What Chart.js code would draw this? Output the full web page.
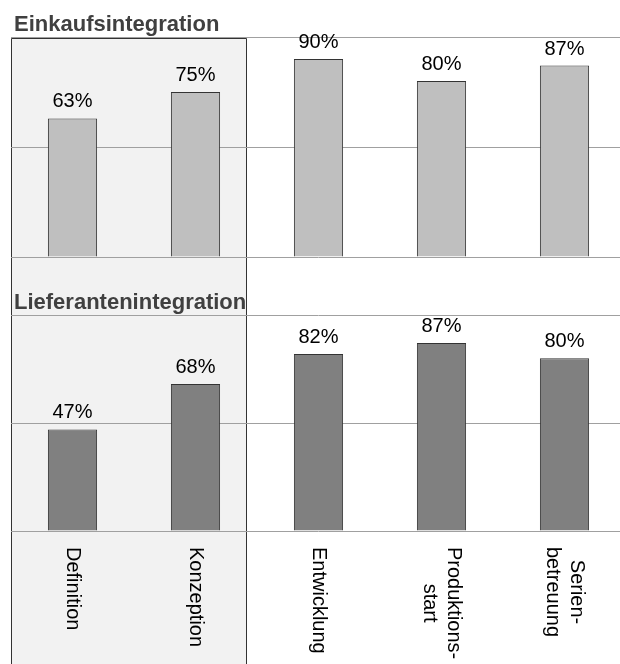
<!DOCTYPE html>
<html>
<head>
<meta charset="utf-8">
<script src="https://cdn.jsdelivr.net/npm/chart.js@4"></script>
<style>
  body { margin: 0; background: #fff; overflow: hidden; }
  .panel { position: absolute; left: 0; }
</style>
</head>
<body>
<div class="panel" style="top:0"><canvas id="topChart" width="626" height="260"></canvas></div>
<div class="panel" style="top:260px"><canvas id="bottomChart" width="626" height="404"></canvas></div>
<script>
// data

const phases = [
  ['Definition'],
  ['Konzeption'],
  ['Entwicklung'],
  ['Produktions-', 'start'],
  ['Serien-', 'betreuung']
];
const einkauf = [63, 75, 90, 80, 87];
const lieferanten = [47, 68, 82, 87, 80];
const yMax = 100;
const yStep = 50;

const font = '"Liberation Sans", Arial, sans-serif';

// shaded box behind the first two phases
const phaseBox = {
  id: 'phaseBox',
  beforeDraw(chart, args, opts) {
    const ctx = chart.ctx;
    const x = chart.scales.x;
    const left = Math.round(chart.chartArea.left) + 0.5;
    const step = x.getPixelForValue(2) - x.getPixelForValue(1);
    const right = Math.round(x.getPixelForValue(1) + step * 0.41) + 0.5;
    const top = opts.fromTop ? 0 : Math.round(chart.chartArea.top) + 1.5;
    const bottom = chart.height;
    ctx.save();
    ctx.fillStyle = '#f2f2f2';
    ctx.fillRect(left, top, right - left, bottom - top);
    ctx.strokeStyle = '#333';
    ctx.lineWidth = 1;
    ctx.beginPath();
    ctx.moveTo(left, bottom);
    ctx.lineTo(left, top);
    if (!opts.fromTop) ctx.lineTo(right, top);
    else ctx.moveTo(right, top);
    ctx.lineTo(right, bottom);
    ctx.stroke();
    ctx.restore();
  }
};

// value labels over the bars + panel heading
const barText = {
  id: 'barText',
  afterDraw(chart, args, opts) {
    const ctx = chart.ctx;
    const meta = chart.getDatasetMeta(0);
    const values = chart.data.datasets[0].data;
    ctx.save();
    ctx.fillStyle = '#000';
    ctx.font = '20px ' + font;
    ctx.textAlign = 'center';
    ctx.textBaseline = 'alphabetic';
    meta.data.forEach((bar, i) => {
      ctx.fillText(values[i] + '%', bar.x, bar.y - 11);
    });

    ctx.fillStyle = '#404040';
    ctx.font = 'bold 22px ' + font;
    ctx.textAlign = 'left';
    ctx.fillText(opts.heading, chart.chartArea.left + 3, chart.chartArea.top - 6);

    // phase names, rotated so they read downwards
    if (opts.phaseLabels) {
      const x = chart.scales.x;
      ctx.fillStyle = '#000';
      ctx.font = '20px ' + font;
      ctx.textAlign = 'center';
      ctx.textBaseline = 'middle';
      chart.data.labels.forEach((lines, i) => {
        const w = Math.max(...lines.map(l => ctx.measureText(l).width));
        ctx.save();
        ctx.translate(x.getPixelForValue(i), chart.chartArea.bottom + 16);
        ctx.rotate(Math.PI / 2);
        lines.forEach((line, j) => {
          ctx.fillText(line, w / 2, (j - (lines.length - 1) / 2) * 24);
        });
        ctx.restore();
      });
    }
    ctx.restore();
  }
};

function makeConfig(values, color, heading, padding, phaseLabels, fromTop) {
  return {
    type: 'bar',
    data: {
      labels: phases,
      datasets: [{
        data: values,
        backgroundColor: color,
        borderColor: '#333',
        borderWidth: 1,
        categoryPercentage: 0.5,
        barPercentage: 0.8
      }]
    },
    options: {
      responsive: false,
      animation: false,
      layout: { padding: padding },
      plugins: {
        legend: { display: false },
        tooltip: { enabled: false },
        phaseBox: { fromTop: fromTop },
        barText: { heading: heading, phaseLabels: phaseLabels }
      },
      scales: {
        x: { display: false },
        y: {
          min: 0,
          max: yMax,
          ticks: { display: false, stepSize: yStep },
          border: { display: false },
          grid: { color: '#a0a0a0', lineWidth: 1, drawTicks: false }
        }
      }
    },
    plugins: [phaseBox, barText]
  };
}

// top chart
const topChart = new Chart(
  document.getElementById('topChart'),
  makeConfig(einkauf, '#bfbfbf', 'Einkaufsintegration', { left: 11, top: 37, right: 0, bottom: 3 }, false, false)
);

// bottom chart
const bottomChart = new Chart(
  document.getElementById('bottomChart'),
  makeConfig(lieferanten, '#808080', 'Lieferantenintegration', { left: 11, top: 55, right: 0, bottom: 133 }, true, true)
);
</script>
</body>
</html>
